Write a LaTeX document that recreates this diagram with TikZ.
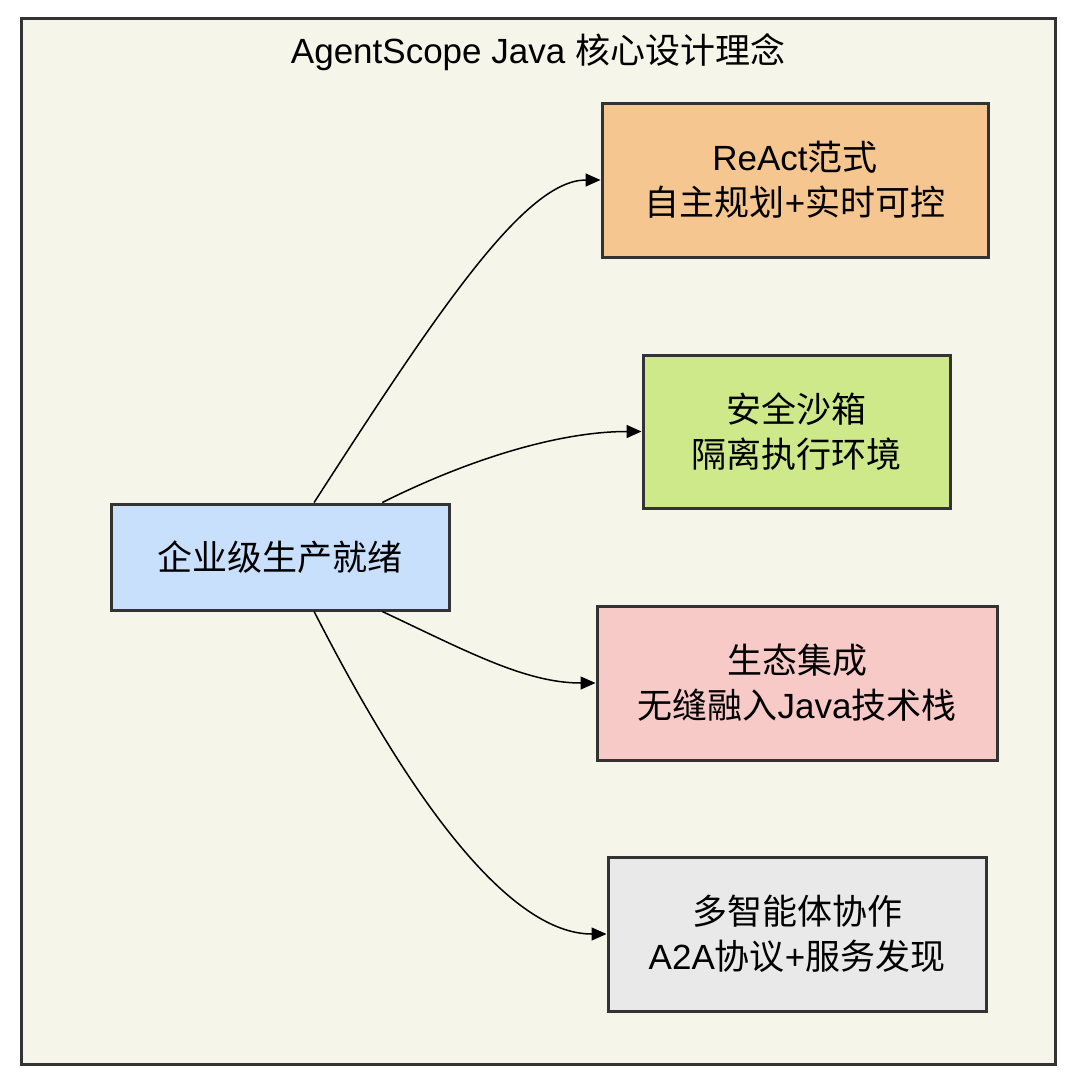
\documentclass[tikz,border=0pt]{standalone}
\usepackage{fontspec}
\setmainfont{Liberation Sans}
\newfontfamily\cjk{Noto Sans CJK SC}
\usepackage{tikz}
\usetikzlibrary{arrows.meta,calc}

\definecolor{framebg}{HTML}{F5F5E9}
\definecolor{edgegray}{HTML}{333333}
\definecolor{reactfill}{HTML}{F5C690}
\definecolor{sandfill}{HTML}{CDE98A}
\definecolor{ecofill}{HTML}{F8CAC7}
\definecolor{multifill}{HTML}{E9E9E9}
\definecolor{corefill}{HTML}{C9E0FC}

\tikzset{
  box/.style={draw=edgegray, line width=3pt, align=center, inner sep=0pt,
    font=\fontsize{35}{45}\selectfont},
  link/.style={line width=1.5pt, -{Triangle[length=15pt,width=13pt]}}
}

\begin{document}
\begin{tikzpicture}[x=1pt, y=-1pt]
\useasboundingbox (0,0) rectangle (1080,1090);

% outer frame and title
\draw[draw=edgegray, fill=framebg, line width=3pt] (21,18) rectangle (1055,1064);
\node[font=\fontsize{35}{45}\selectfont] (title) at (538,52) {AgentScope Java {\cjk 核心设计理念}};

% centre box
\node[box, fill=corefill, minimum width=338pt, minimum height=106pt] (core) at (280,557)
  {\cjk 企业级生产就绪};

% four design ideas
\node[box, fill=reactfill, minimum width=386pt, minimum height=154pt] (react) at (795,180)
  {ReAct{\cjk 范式}\\{\cjk 自主规划}+{\cjk 实时可控}};
\node[box, fill=sandfill, minimum width=307pt, minimum height=153pt] (sandbox) at (796.5,431.5)
  {{\cjk 安全沙箱}\\{\cjk 隔离执行环境}};
\node[box, fill=ecofill, minimum width=400pt, minimum height=154pt] (eco) at (797,683)
  {{\cjk 生态集成}\\{\cjk 无缝融入}Java{\cjk 技术栈}};
\node[box, fill=multifill, minimum width=378pt, minimum height=154pt] (multi) at (797,934)
  {{\cjk 多智能体协作}\\A2A{\cjk 协议}+{\cjk 服务发现}};

% connectors
\coordinate (coreN1) at ($(core.north west)!0.6!(core.north east)$);
\coordinate (coreN2) at ($(core.north west)!0.8!(core.north east)$);
\coordinate (coreS1) at ($(core.south west)!0.6!(core.south east)$);
\coordinate (coreS2) at ($(core.south west)!0.8!(core.south east)$);

\draw[link] (coreN1) .. controls +(125,-194) and +(-75,0) .. (react.west);
\draw[link] (coreN2) .. controls +(90,-45) and +(-80,0) .. (sandbox.west);
\draw[link] (coreS2) .. controls +(85,40) and +(-70,0) .. (eco.west);
\draw[link] (coreS1) .. controls +(115,225) and +(-85,0) .. (multi.west);
\end{tikzpicture}
\end{document}
